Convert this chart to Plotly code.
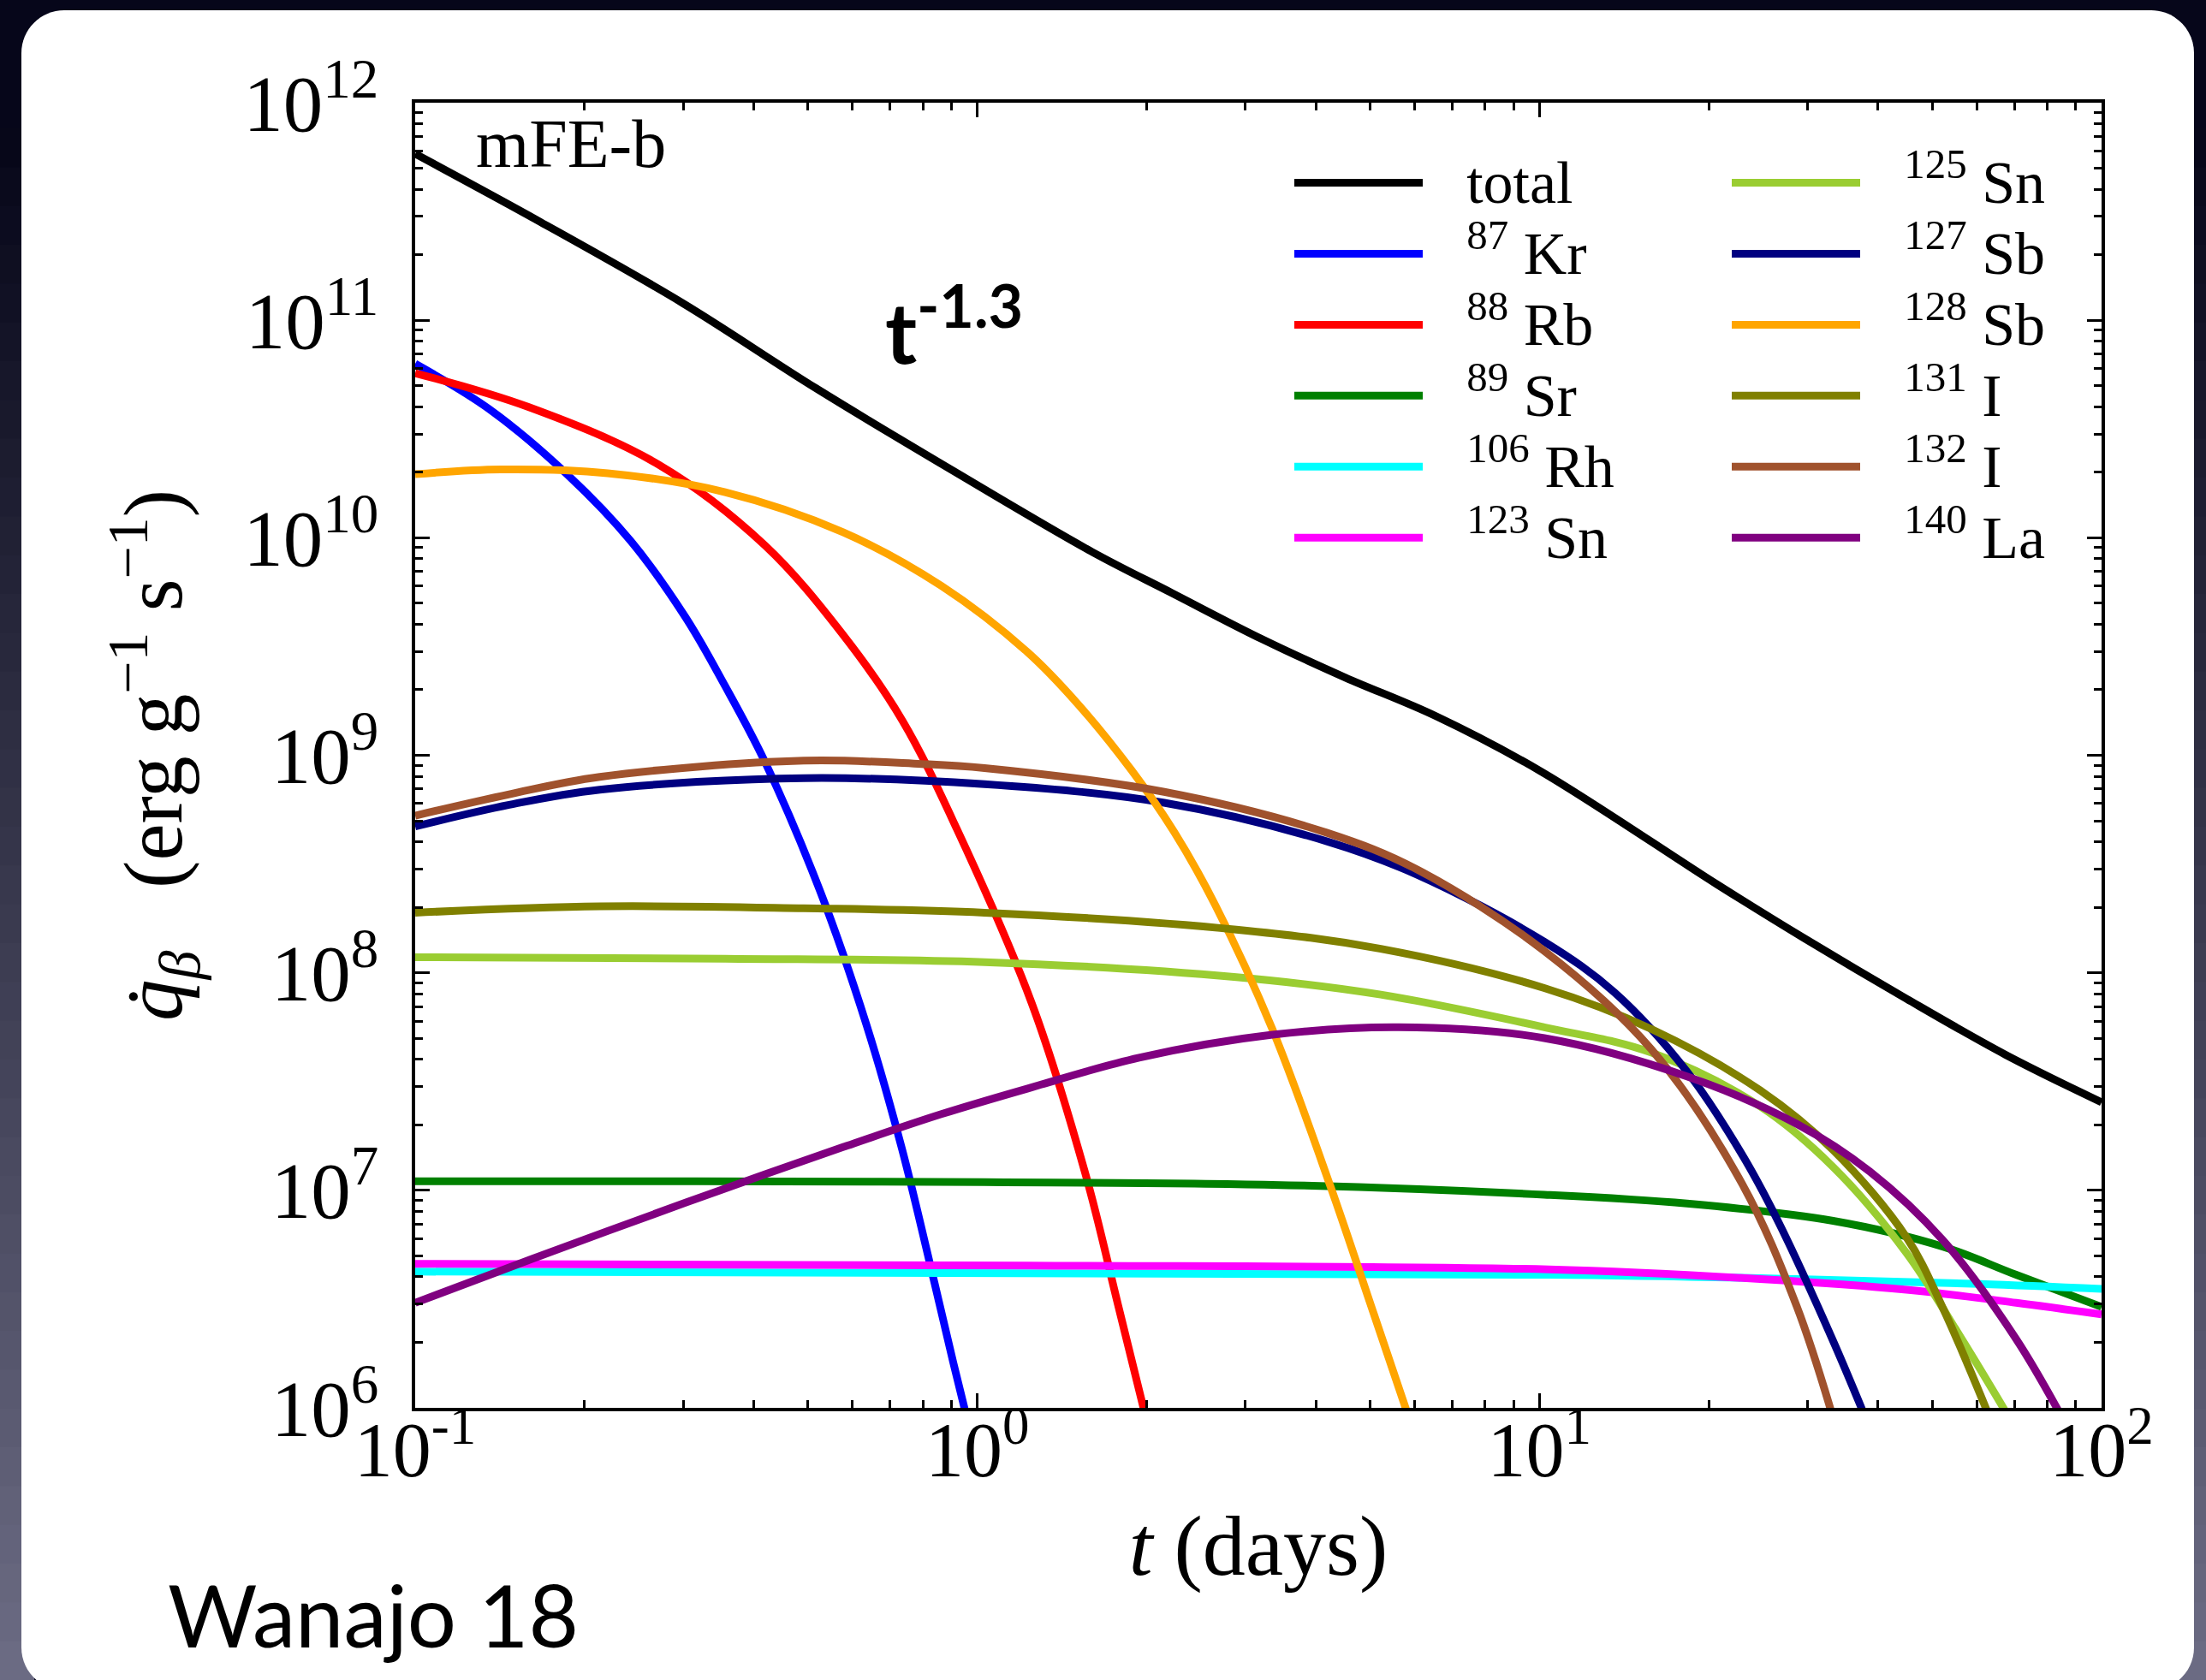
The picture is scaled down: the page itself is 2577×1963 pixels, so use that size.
import plotly.graph_objects as go

# ---------------------------------------------------------------------------
# Beta-decay heating rate of individual nuclides (model mFE-b)
# time in days, heating rate in erg g^-1 s^-1
# ---------------------------------------------------------------------------
t_total = [0.1, 0.167, 0.299, 0.515, 0.906, 1.60, 2.22, 3.21, 4.51, 6.52, 10.0, 20.7, 29.6, 45.0, 67.5, 100]
q_total = [5.82e11, 2.83e11, 1.20e11, 4.89e10, 2.03e10, 8.61e9, 5.57e9, 3.42e9, 2.28e9, 1.52e9, 8.51e8,
           2.55e8, 1.44e8, 7.59e7, 4.20e7, 2.54e7]

t_kr87 = [0.1, 0.1355, 0.187, 0.242, 0.303, 0.356, 0.419, 0.525, 0.635, 0.735, 0.822, 0.906, 0.970]
q_kr87 = [6.31e10, 3.90e10, 1.94e10, 9.64e9, 4.29e9, 2.08e9, 9.33e8, 2.38e8, 5.77e7, 1.54e7, 4.70e6, 1.62e6, 7.9e5]

t_rb88 = [0.1, 0.159, 0.271, 0.419, 0.577, 0.735, 0.920, 1.25, 1.56, 1.78, 2.02]
q_rb88 = [5.71e10, 3.99e10, 2.17e10, 9.23e9, 3.58e9, 1.45e9, 4.57e8, 7.24e7, 1.17e7, 2.97e6, 7.9e5]

t_sr89 = [0.1, 0.316, 1.03, 3.35, 10.2, 18.3, 33.3, 52.2, 70.5, 100]
q_sr89 = [1.10e7, 1.10e7, 1.09e7, 1.06e7, 9.55e6, 8.69e6, 7.24e6, 5.51e6, 4.09e6, 2.91e6]

t_rh106 = [0.1, 10.4, 28.7, 60.7, 100]
q_rh106 = [4.23e6, 4.09e6, 3.91e6, 3.71e6, 3.52e6]

t_sn123 = [0.1, 1.23, 10.4, 24.7, 45.0, 70.5, 100]
q_sn123 = [4.59e6, 4.51e6, 4.33e6, 3.91e6, 3.49e6, 3.04e6, 2.69e6]

t_sn125 = [0.1, 0.356, 1.03, 2.89, 5.22, 10.2, 15.8, 24.7, 33.3, 45.0, 56.4, 70.6]
q_sn125 = [1.18e8, 1.16e8, 1.12e8, 9.55e7, 7.94e7, 5.62e7, 4.30e7, 2.43e7, 1.28e7, 5.14e6, 2.07e6, 7.9e5]

t_sb127 = [0.1, 0.147, 0.213, 0.491, 1.03, 2.15, 4.19, 6.05, 10.2, 13.6, 18.3, 22.9, 26.6, 33.3, 38.9]
q_sb127 = [4.71e8, 5.92e8, 6.95e8, 7.85e8, 7.36e8, 6.05e8, 4.02e8, 2.83e8, 1.39e8, 8.13e7, 3.52e7, 1.47e7,
           7.18e6, 2.03e6, 7.8e5]

t_sb128 = [0.1, 0.142, 0.220, 0.356, 0.577, 0.863, 1.23, 1.51, 1.88, 2.24, 2.65, 3.35, 4.25, 5.07, 5.96]
q_sb128 = [1.96e10, 2.06e10, 1.98e10, 1.62e10, 1.06e10, 6.01e9, 2.97e9, 1.72e9, 8.55e8, 4.44e8, 2.05e8,
           5.50e7, 1.04e7, 2.72e6, 7.9e5]

t_i131 = [0.1, 0.213, 0.491, 1.03, 2.89, 5.22, 10.2, 15.8, 24.7, 33.3, 45.0, 52.2, 64.6]
q_i131 = [1.89e8, 2.02e8, 1.98e8, 1.89e8, 1.58e8, 1.29e8, 8.51e7, 5.52e7, 2.88e7, 1.53e7, 6.07e6, 2.88e6, 7.9e5]

t_i132 = [0.1, 0.147, 0.213, 0.491, 0.796, 1.03, 2.15, 4.19, 6.05, 10.2, 15.8, 22.9, 28.7, 33.8]
q_i132 = [5.28e8, 6.62e8, 7.96e8, 9.44e8, 9.12e8, 8.73e8, 6.79e8, 4.40e8, 2.99e8, 1.26e8, 4.46e7, 1.08e7,
          2.92e6, 7.9e5]

t_la140 = [0.1, 0.147, 0.220, 0.356, 0.577, 0.863, 1.23, 1.94, 3.35, 5.62, 10.2, 18.3, 28.7, 38.7, 52.2,
           70.5, 87.5]
q_la140 = [3.04e6, 4.42e6, 6.50e6, 1.02e7, 1.58e7, 2.24e7, 2.94e7, 4.07e7, 5.19e7, 5.62e7, 5.01e7, 3.34e7,
           2.02e7, 1.22e7, 5.90e6, 2.07e6, 7.9e5]

labels = ["total", "<sup>87</sup> Kr", "<sup>88</sup> Rb", "<sup>89</sup> Sr", "<sup>106</sup> Rh",
          "<sup>123</sup> Sn", "<sup>125</sup> Sn", "<sup>127</sup> Sb", "<sup>128</sup> Sb",
          "<sup>131</sup> I", "<sup>132</sup> I", "<sup>140</sup> La"]
colors = ["black", "#0000ff", "#ff0000", "#008000", "#00ffff", "#ff00ff",
          "#9acd32", "#000080", "#ffa500", "#808000", "#a0522d", "#800080"]
t_sets = [t_total, t_kr87, t_rb88, t_sr89, t_rh106, t_sn123, t_sn125, t_sb127, t_sb128, t_i131, t_i132, t_la140]
q_sets = [q_total, q_kr87, q_rb88, q_sr89, q_rh106, q_sn123, q_sn125, q_sb127, q_sb128, q_i131, q_i132, q_la140]

x_tickvals = [0.1, 1, 10, 100]
x_ticktext = ["10<sup>-1</sup>", "10<sup>0</sup>", "10<sup>1</sup>", "10<sup>2</sup>"]
y_tickvals = [1e6, 1e7, 1e8, 1e9, 1e10, 1e11, 1e12]
y_ticktext = ["10<sup>6</sup>", "10<sup>7</sup>", "10<sup>8</sup>", "10<sup>9</sup>",
              "10<sup>10</sup>", "10<sup>11</sup>", "10<sup>12</sup>"]

# ---------------------------------------------------------------------------
W, H = 2577, 1963
L, R, T, B = 485, 2455, 120, 1645          # plot-area edges in pixels


def fx(px):
    return (px - L) / (R - L)


def fy(py):
    return (B - py) / (B - T)


SERIF = "Liberation Serif"
SANS = "Lato"
LEG_PAD = "\u2002\u00a0"

fig = go.Figure()
for i, (name, col, tt, qq) in enumerate(zip(labels, colors, t_sets, q_sets)):
    fig.add_trace(go.Scatter(
        x=tt, y=qq, mode="lines",
        name=LEG_PAD + '<span style="font-size:70px">' + name + "</span>",
        line=dict(color=col, width=9, shape="spline", smoothing=1.0),
        legend="legend" if i < 6 else "legend2",
    ))

x_minor = [k * 10.0 ** e for e in range(-1, 2) for k in range(2, 10)]
y_minor = [k * 10.0 ** e for e in range(6, 12) for k in range(2, 10)]

axis_common = dict(
    type="log", tickmode="array", ticks="inside", ticklen=17, tickwidth=3, tickcolor="black",
    showline=True, linewidth=4, linecolor="black", mirror="allticks",
    showgrid=False, zeroline=False,
)

fig.update_xaxes(
    range=[-1, 2], tickvals=x_tickvals, ticktext=x_ticktext, ticklabelstandoff=-32,
    tickfont=dict(family=SERIF, size=90, color="black"),
    minor=dict(tickmode="array", tickvals=x_minor, ticks="inside", ticklen=9, tickwidth=2.5,
               tickcolor="black", showgrid=False),
    title=dict(text="<i>t</i> (days)", font=dict(family=SERIF, size=100, color="black"), standoff=28),
    **axis_common,
)
fig.update_yaxes(
    range=[6, 12], tickvals=y_tickvals, ticktext=y_ticktext, ticklabelstandoff=20,
    tickfont=dict(family=SERIF, size=93, color="black"),
    minor=dict(tickmode="array", tickvals=y_minor, ticks="inside", ticklen=9, tickwidth=2.5,
               tickcolor="black", showgrid=False),
    title=dict(text="\u2002<i>q\u0307</i><sub><i>\u03b2</i></sub>\u2002\u00a0(erg g<sup>\u22121</sup> s<sup>\u22121</sup>)",
               font=dict(family=SERIF, size=97, color="black"), standoff=40),
    **axis_common,
)

legend_common = dict(
    xanchor="left", yanchor="top", bgcolor="rgba(0,0,0,0)", borderwidth=0,
    font=dict(family=SERIF, size=61.5, color="black"), itemwidth=150, tracegroupgap=0,
    orientation="v",
)

# slide background: dark frame with a soft vertical gradient on the sides
shapes = []
n_bands = 40
top_rgb = (6, 6, 24)
bot_rgb = (108, 108, 132)
for k in range(n_bands):
    y0 = 150 + (H - 150) * k / n_bands
    y1 = 150 + (H - 150) * (k + 1) / n_bands + 1
    f = (k + 0.5) / n_bands
    c = tuple(int(round(a + (b - a) * f)) for a, b in zip(top_rgb, bot_rgb))
    colr = "rgb(%d,%d,%d)" % c
    for xa, xb in ((0, 40), (2540, W)):
        shapes.append(dict(type="rect", xref="paper", yref="paper",
                           x0=fx(xa), x1=fx(xb), y0=fy(y1), y1=fy(y0),
                           fillcolor=colr, line=dict(width=0), layer="below"))

# white rounded panel
px0, py0, px1, py1, rad = 25, 12, 2563, 1975, 50
kk = 0.5523 * rad


def P(a, b):
    return "%.6f,%.6f" % (fx(a), fy(b))


panel = ("M " + P(px0 + rad, py0) + " L " + P(px1 - rad, py0) +
         " C " + P(px1 - rad + kk, py0) + " " + P(px1, py0 + rad - kk) + " " + P(px1, py0 + rad) +
         " L " + P(px1, py1 - rad) +
         " C " + P(px1, py1 - rad + kk) + " " + P(px1 - rad + kk, py1) + " " + P(px1 - rad, py1) +
         " L " + P(px0 + rad, py1) +
         " C " + P(px0 + rad - kk, py1) + " " + P(px0, py1 - rad + kk) + " " + P(px0, py1 - rad) +
         " L " + P(px0, py0 + rad) +
         " C " + P(px0, py0 + rad - kk) + " " + P(px0 + rad - kk, py0) + " " + P(px0 + rad, py0) + " Z")
shapes.append(dict(type="path", xref="paper", yref="paper", path=panel,
                   fillcolor="white", line=dict(width=0), layer="below"))

annotations = [
    dict(text="mFE-b", xref="paper", yref="paper", x=fx(554), y=fy(168), xanchor="left", yanchor="middle",
         showarrow=False, font=dict(family=SERIF, size=80, color="black")),
    dict(text="<b>t<sup>-1.3</sup></b>", xref="paper", yref="paper", x=fx(1032), y=fy(380),
         xanchor="left", yanchor="middle", showarrow=False, font=dict(family=SANS, size=100, color="black")),
    dict(text="Wanajo 18", xref="paper", yref="paper", x=fx(194), y=fy(1886), xanchor="left",
         yanchor="middle", showarrow=False, font=dict(family=SANS, size=101, color="black")),
]

fig.update_layout(
    width=W, height=H,
    margin=dict(l=L, r=W - R, t=T, b=H - B, pad=0, autoexpand=False),
    paper_bgcolor="#06061a", plot_bgcolor="white",
    font=dict(family=SERIF, color="black"),
    showlegend=True,
    legend=dict(x=fx(1507), y=fy(167), **legend_common),
    legend2=dict(x=fx(2018), y=fy(167), **legend_common),
    shapes=shapes, annotations=annotations,
)

fig.write_html("out.html")
